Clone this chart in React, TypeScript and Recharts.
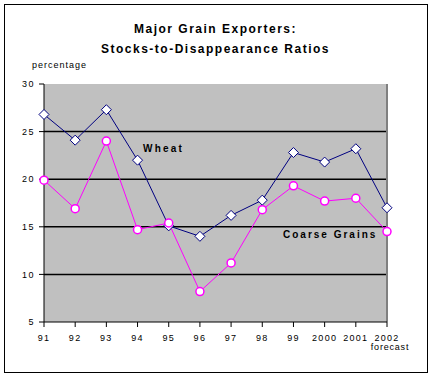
import React from 'react'
import { LineChart, Line, XAxis, YAxis, CartesianGrid, ReferenceLine } from 'recharts'

const years = ['91', '92', '93', '94', '95', '96', '97', '98', '99', '2000', '2001', '2002']
const wheat = [26.8, 24.1, 27.3, 22.0, 15.1, 14.0, 16.2, 17.8, 22.8, 21.8, 23.2, 17.0]
const coarseGrains = [19.9, 16.9, 24.0, 14.7, 15.4, 8.2, 11.2, 16.8, 19.3, 17.7, 18.0, 14.5]
const yTicks = [5, 10, 15, 20, 25, 30]
const gridValues = [10, 15, 20, 25]

const rows = years.map((year, i) => ({ year, wheat: wheat[i], coarse: coarseGrains[i] }))

const font = '"Liberation Sans", Arial, sans-serif'

function Diamond(props: any) {
  const { cx, cy, index } = props
  if (cx == null || cy == null) return null
  return (
    <polygon
      key={'d' + index}
      points={`${cx},${cy - 5} ${cx + 5},${cy} ${cx},${cy + 5} ${cx - 5},${cy}`}
      fill="#fff"
      stroke="#000080"
      strokeWidth={1}
    />
  )
}

function Ring(props: any) {
  const { cx, cy, index } = props
  if (cx == null || cy == null) return null
  return <circle key={'c' + index} cx={cx} cy={cy} r={4} fill="#fff" stroke="#ff00ff" strokeWidth={1.5} />
}

function YearTick(props: any) {
  const { x, y, payload } = props
  return (
    <g>
      <text x={x} y={y + 6} dy="0.71em" textAnchor="middle" fontSize={9} letterSpacing={1.3} fill="#000" fontFamily={font}>
        {payload.value}
      </text>
      {payload.value === '2002' && (
        <text x={x + 3} y={y + 15} dy="0.71em" textAnchor="middle" fontSize={9} letterSpacing={0.8} fill="#000" fontFamily={font}>
          forecast
        </text>
      )}
    </g>
  )
}

export default function App() {
  return (
    <div style={{ position: 'absolute', left: 0, top: 0, width: 433, height: 378, background: '#fff', fontFamily: font }}>
      <div style={{ position: 'absolute', left: 4, top: 4, width: 422, height: 367, border: '1px solid #000' }} />
      <div style={{ position: 'absolute', left: 0, top: 19, width: 431, textAlign: 'center', fontSize: 12, fontWeight: 'bold', letterSpacing: 1.5, lineHeight: '20px' }}>
        Major Grain Exporters:
        <br />
        Stocks-to-Disappearance Ratios
      </div>
      <div style={{ position: 'absolute', left: 32, top: 60, fontSize: 9, letterSpacing: 1 }}>percentage</div>
      <LineChart width={433} height={378} data={rows} margin={{ top: 84, right: 46, bottom: 26, left: 4 }}>
        <CartesianGrid fill="#c0c0c0" stroke="#000" strokeWidth={1.5} vertical={false} horizontalValues={gridValues} />
        <ReferenceLine x="2002" stroke="#808080" strokeWidth={2} />
        <XAxis
          dataKey="year"
          scale="point"
          padding={{ left: 0, right: 0 }}
          height={30}
          stroke="#000"
          tickSize={5}
          tick={<YearTick />}
          interval={0}
        />
        <YAxis
          domain={[5, 30]}
          ticks={yTicks}
          width={40}
          stroke="#000"
          tickSize={5}
          tickMargin={4}
          tick={{ fontSize: 9, fill: '#000', fontFamily: font, letterSpacing: 1.5 }}
        />
        <Line dataKey="wheat" stroke="#000080" strokeWidth={1} dot={<Diamond />} isAnimationActive={false} />
        <Line dataKey="coarse" stroke="#ff00ff" strokeWidth={1} dot={<Ring />} isAnimationActive={false} />
      </LineChart>
      <div style={{ position: 'absolute', left: 143, top: 143, fontSize: 10, fontWeight: 'bold', letterSpacing: 2.2 }}>Wheat</div>
      <div style={{ position: 'absolute', left: 283, top: 229, fontSize: 10, fontWeight: 'bold', letterSpacing: 2 }}>Coarse Grains</div>
    </div>
  )
}
